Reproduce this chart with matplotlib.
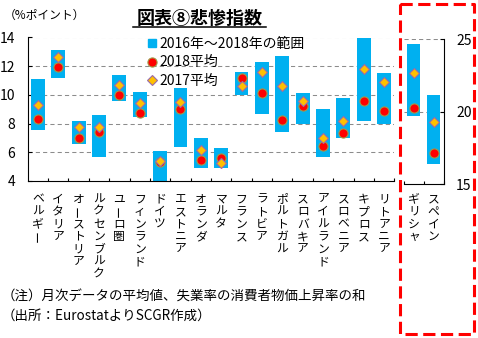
import matplotlib
matplotlib.use("Agg")
import matplotlib.pyplot as plt
import numpy as np
from matplotlib.lines import Line2D

plt.rcParams['font.family'] = ['Noto Sans CJK JP', 'DejaVu Sans']

# ---- data (left axis) ----
countries = ["ベルギー", "イタリア", "オーストリア", "ルクセンブルク", "ユーロ圏", "フィンランド",
             "ドイツ", "エストニア", "オランダ", "マルタ", "フランス", "ラトビア", "ポルトガル",
             "スロバキア", "アイルランド", "スロベニア", "キプロス", "リトアニア"]
range_low = [7.57, 11.19, 6.60, 5.69, 9.59, 8.48, 3.90, 6.34, 4.93, 4.93, 10.01, 8.69, 7.43,
             7.99, 5.69, 7.02, 8.20, 7.99]
range_high = [11.10, 13.12, 8.18, 8.59, 11.38, 10.19, 6.09, 10.45, 7.00, 6.30, 11.59, 12.26, 12.70,
              10.13, 9.01, 9.78, 14.20, 11.54]
avg2018 = [8.34, 11.96, 7.00, 7.43, 10.01, 8.73, 5.35, 9.01, 5.48, 5.58, 11.19, 10.10, 8.27,
           9.22, 6.44, 7.34, 9.59, 8.90]
avg2017 = [9.31, 12.61, 7.74, 7.74, 10.66, 9.41, 5.39, 9.48, 6.16, 5.23, 10.59, 11.63, 10.61,
           9.55, 6.99, 8.15, 11.82, 10.87]

# ---- data (right axis) ----
countries_r = ["ギリシャ", "スペイン"]
range_low_r = [19.72, 16.41]
range_high_r = [24.68, 21.15]
avg2018_r = [20.23, 17.17]
avg2017_r = [22.65, 19.26]

left_ticks = [4, 6, 8, 10, 12, 14]
right_ticks = [15, 20, 25]

legend_labels = ["2016年～2018年の範囲", "2018平均", "2017平均"]
title = "図表⑧悲惨指数"
unit = "（%ポイント）"
note1 = "（注）月次データの平均値、失業率の消費者物価上昇率の和"
note2 = "（出所：EurostatよりSCGR作成）"

BAR = '#00B0F0'
RED = '#FF0000'
RED_E = '#A09A48'
GOLD = '#FFC000'
GOLD_E = '#9A6AAA'
GRID = '#8C8C8C'

W, H = 478, 338
fig = plt.figure(figsize=(W / 100, H / 100), dpi=100)


def rect(x0, y0, x1, y1):
    return [x0 / W, 1 - y1 / H, (x1 - x0) / W, (y1 - y0) / H]


def vlabels(ax, names, first_off, step=12.5, fs=8.5):
    for i, name in enumerate(names):
        for k, ch in enumerate(name):
            ax.annotate(ch, xy=(i, 0), xycoords=('data', 'axes fraction'),
                        xytext=(0, -(first_off + k * step)), textcoords='offset pixels',
                        ha='center', va='center', fontsize=fs,
                        rotation=90 if ch == 'ー' else 0, annotation_clip=False)


def style(ax):
    for s in ax.spines.values():
        s.set_linewidth(0.8)
        s.set_color('black')
    ax.grid(axis='y', color=GRID, linestyle=(0, (4, 3)), linewidth=0.75)
    ax.set_axisbelow(True)


# ---- left axes ----
ax = fig.add_axes(rect(27.7, 37.5, 394.3, 181))
n = len(countries)
x = np.arange(n)
lo = np.array(range_low)
hi = np.array(range_high)
ax.bar(x, hi - lo, bottom=lo, width=0.68, color=BAR, zorder=2)
ax.plot(x, avg2018, linestyle='none', marker='o', markersize=6.6, markerfacecolor=RED,
        markeredgecolor=RED_E, markeredgewidth=0.8, zorder=3)
ax.plot(x, avg2017, linestyle='none', marker='D', markersize=4.8, markerfacecolor=GOLD,
        markeredgecolor=GOLD_E, markeredgewidth=0.8, zorder=4)
ax.set_xlim(-0.5, n - 0.5)
ax.set_ylim(4, 14)
ax.set_yticks(left_ticks)
ax.set_yticklabels([str(t) for t in left_ticks], fontsize=10)
ax.tick_params(axis='y', direction='in', length=3, width=0.8, pad=9)
ax.set_xticks(np.arange(0.5, n, 1.0))
ax.set_xticklabels([])
ax.tick_params(axis='x', direction='in', length=2.4, width=0.8)
style(ax)
ax.spines['top'].set_visible(False)
ax.spines['right'].set_visible(False)
gl = ax.get_ygridlines()
gl[0].set_visible(False)
vlabels(ax, countries, 18)

handles = [
    Line2D([], [], linestyle='none', marker='s', markersize=5.2, markerfacecolor=BAR, markeredgecolor=BAR),
    Line2D([], [], linestyle='none', marker='o', markersize=6.6, markerfacecolor=RED,
           markeredgecolor=RED_E, markeredgewidth=0.8),
    Line2D([], [], linestyle='none', marker='D', markersize=4.8, markerfacecolor=GOLD,
           markeredgecolor=GOLD_E, markeredgewidth=0.8),
]
fig.legend(handles, legend_labels, loc='upper left', bbox_to_anchor=(148 / W, 1 - 37 / H),
           frameon=False, fontsize=10, handlelength=0.6, handletextpad=0.25,
           labelspacing=0.32, borderpad=0, borderaxespad=0)

# ---- right axes ----
axr = fig.add_axes(rect(404, 39.3, 443.5, 184))
nr = len(countries_r)
xr = np.arange(nr)
lor = np.array(range_low_r)
hir = np.array(range_high_r)
axr.bar(xr, hir - lor, bottom=lor, width=0.67, color=BAR, zorder=2)
axr.plot(xr, avg2018_r, linestyle='none', marker='o', markersize=6.6, markerfacecolor=RED,
         markeredgecolor=RED_E, markeredgewidth=0.8, zorder=3)
axr.plot(xr, avg2017_r, linestyle='none', marker='D', markersize=4.8, markerfacecolor=GOLD,
         markeredgecolor=GOLD_E, markeredgewidth=0.8, zorder=4)
axr.set_xlim(-0.5, nr - 0.5)
axr.set_ylim(15, 25)
axr.yaxis.tick_right()
axr.set_yticks(right_ticks)
axr.set_yticklabels([str(t) for t in right_ticks], fontsize=10)
axr.tick_params(axis='y', direction='in', length=3, width=0.8, pad=9)
axr.set_xticks(np.arange(-0.5, nr, 1.0))
axr.set_xticklabels([])
axr.tick_params(axis='x', direction='in', length=2.4, width=0.8)
style(axr)
axr.spines['top'].set_visible(False)
axr.spines['left'].set_visible(False)
glr = axr.get_ygridlines()
glr[0].set_visible(False)
vlabels(axr, countries_r, 15)

# ---- texts ----
fig.text(199.5 / W, 1 - 18 / H, title, ha='center', va='center', fontsize=13, fontweight='bold')
fig.add_artist(Line2D([133 / W, 266 / W], [1 - 27 / H, 1 - 27 / H], color='black', linewidth=1.1))
fig.text(4 / W, 1 - 15 / H, unit, ha='left', va='center', fontsize=8.5)
fig.text(2 / W, 1 - 297 / H, note1, ha='left', va='center', fontsize=9.7)
fig.text(2 / W, 1 - 316 / H, note2, ha='left', va='center', fontsize=9.7)

# ---- red dashed box ----
bx0, by0, bx1, by1 = 400 / W, 1 - 4 / H, 474 / W, 1 - 334 / H
box = Line2D([bx0, bx1, bx1, bx0, bx0], [by0, by0, by1, by1, by0], color='#FF0000',
             linewidth=2.2, linestyle=(0, (4, 1.8)), transform=fig.transFigure)
fig.add_artist(box)

fig.savefig('out.png', dpi=100)
